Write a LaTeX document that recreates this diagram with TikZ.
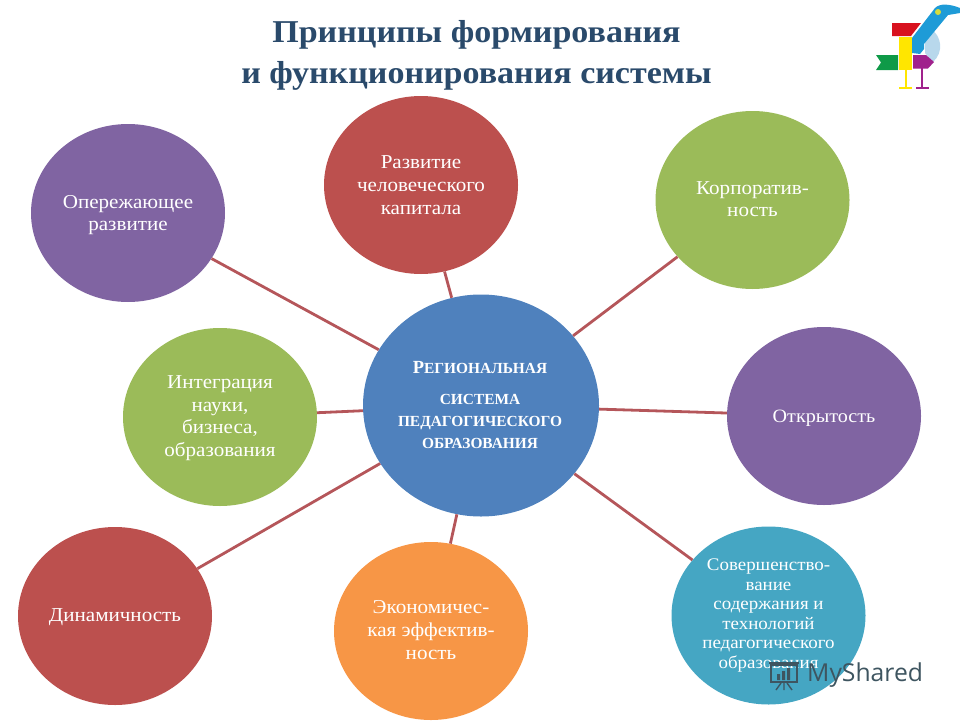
\documentclass[tikz,border=0pt]{standalone}
\usepackage{fontspec}
\setmainfont{Liberation Serif}
\newfontfamily\widefont[FakeStretch=1.07]{Liberation Serif}
\newfontfamily\wmfont{Open Sans}
\usetikzlibrary{shapes.geometric}
\definecolor{cPurple}{HTML}{8064A2}
\definecolor{cRed}{HTML}{BC504E}
\definecolor{cGreen}{HTML}{9BBB59}
\definecolor{cTeal}{HTML}{45A6C3}
\definecolor{cOrange}{HTML}{F79646}
\definecolor{cBlue}{HTML}{4F81BD}
\definecolor{cLine}{HTML}{B5565A}
\definecolor{cTitle}{HTML}{2A4A6B}
\definecolor{cWm}{HTML}{3E5560}
\definecolor{logoRed}{HTML}{D8121F}
\definecolor{logoGreen}{HTML}{0F9A48}
\definecolor{logoYellow}{HTML}{FFE600}
\definecolor{logoPurple}{HTML}{A0228C}
\definecolor{logoBlue}{HTML}{1E9BD7}
\definecolor{logoPale}{HTML}{B8D8EC}
\definecolor{logoDot}{HTML}{D6DC3C}
\tikzset{
  x=1pt,y=-1pt,
  bubble/.style={ellipse,inner sep=0pt,minimum width=194pt,minimum height=178pt},
  btext/.style={inner sep=0pt,text=white,align=center,font=\widefont\fontsize{19.7}{22.7}\selectfont},
  hub/.style={bubble,fill=cBlue,minimum width=236pt,minimum height=222pt},
  hubtext/.style={btext,font=\rmfamily\fontsize{15.4}{22}\selectfont\bfseries},
  link/.style={draw=cLine,line width=2.8pt},
  titletext/.style={text=cTitle,align=center,font=\widefont\fontsize{31.8}{41}\selectfont\bfseries},
}
\begin{document}
\begin{tikzpicture}
\useasboundingbox (0,0) rectangle (960,720);
\node[titletext] (title) at (476.5,55) {Принципы формирования\\и функционирования системы};

\node[hub,label={[hubtext,xshift=-1pt]center:{{\fontsize{18.5}{22}\selectfont Р}ЕГИОНАЛЬНАЯ\\[9pt]СИСТЕМА\\ПЕДАГОГИЧЕСКОГО\\ОБРАЗОВАНИЯ}}] (hubc) at (481,405.5) {};
\node[bubble,fill=cPurple,label={[btext,yshift=-2pt]center:{Опережающее\\развитие}}] (n1) at (128,213) {};
\node[bubble,fill=cRed,label={[btext]center:{Развитие\\человеческого\\капитала}}] (n2) at (421,185) {};
\node[bubble,fill=cGreen,label={[btext,yshift=1pt]center:{Корпоратив-\\ность}}] (n3) at (752.5,200) {};
\node[bubble,fill=cPurple,label={[btext,yshift=-2pt,font=\widefont\fontsize{18.8}{22.7}\selectfont]center:{Открытость}}] (n4) at (824,416) {};
\node[bubble,fill=cTeal,label={[btext,font=\widefont\fontsize{17.7}{19.5}\selectfont]center:{Совершенство-\\вание\\содержания и\\технологий\\педагогического\\образования}}] (n5) at (768.5,615.5) {};
\node[bubble,fill=cOrange,label={[btext,yshift=1pt]center:{Экономичес-\\кая эффектив-\\ность}}] (n6) at (431,631) {};
\node[bubble,fill=cRed,label={[btext,yshift=-1pt]center:{Динамичность}}] (n7) at (115,616) {};
\node[bubble,fill=cGreen,label={[btext,yshift=-1pt]center:{Интеграция\\науки,\\бизнеса,\\образования}}] (n8) at (220,417) {};

\foreach \k in {n1,n2,n3,n4,n5,n6,n7,n8} \draw[link] (hubc) -- (\k);

% logo
\fill[logoPale] (930,28) .. controls (942,36) and (944,52) .. (933,62) -- (925,53) -- (925,40) -- cycle;
\fill[logoRed] (892,23) -- (921,23) -- (911,36) -- (892,36) -- cycle;
\fill[logoGreen] (876,55) -- (898,55) -- (898,70) -- (876,70) -- (881,62.5) -- cycle;
\fill[logoYellow] (899,37) -- (912,37) -- (912,70) -- (899,70) -- cycle;
\draw[logoYellow,line width=1.6pt] (905.7,70) -- (905.7,88) (899,88) -- (912,88);
\fill[logoPurple] (913,55) -- (926,55) -- (934,62) -- (928,68.5) -- (913,68.5) -- cycle;
\draw[logoPurple,line width=1.6pt] (922,68) -- (922,88) (916,88) -- (929,88);
\fill[logoBlue] (912,53) -- (912,38) -- (935,8) .. controls (940,3) and (950,4) .. (960,8) -- (960,13) -- (948,15) -- (924,44) -- (924,49) -- (920,54) -- cycle;
\fill[logoDot] (938,12) circle (3);

% watermark
\node[text=cWm,font=\wmfont\fontsize{24.7}{25}\selectfont,anchor=west,inner sep=0pt] (wm) at (807,675) {MyShared};
\draw[cWm,line width=1.8pt] (771,665) rectangle (797,682);
\draw[cWm,line width=2pt] (769,663) -- (799,663);
\fill[cWm] (777,674) rectangle (780,680) (782,671) rectangle (785,680) (787,668) rectangle (790,680);
\draw[cWm,line width=1.4pt] (781,683) -- (776,690) (784,683) -- (784,690) (787,683) -- (792,690);
\end{tikzpicture}
\end{document}
